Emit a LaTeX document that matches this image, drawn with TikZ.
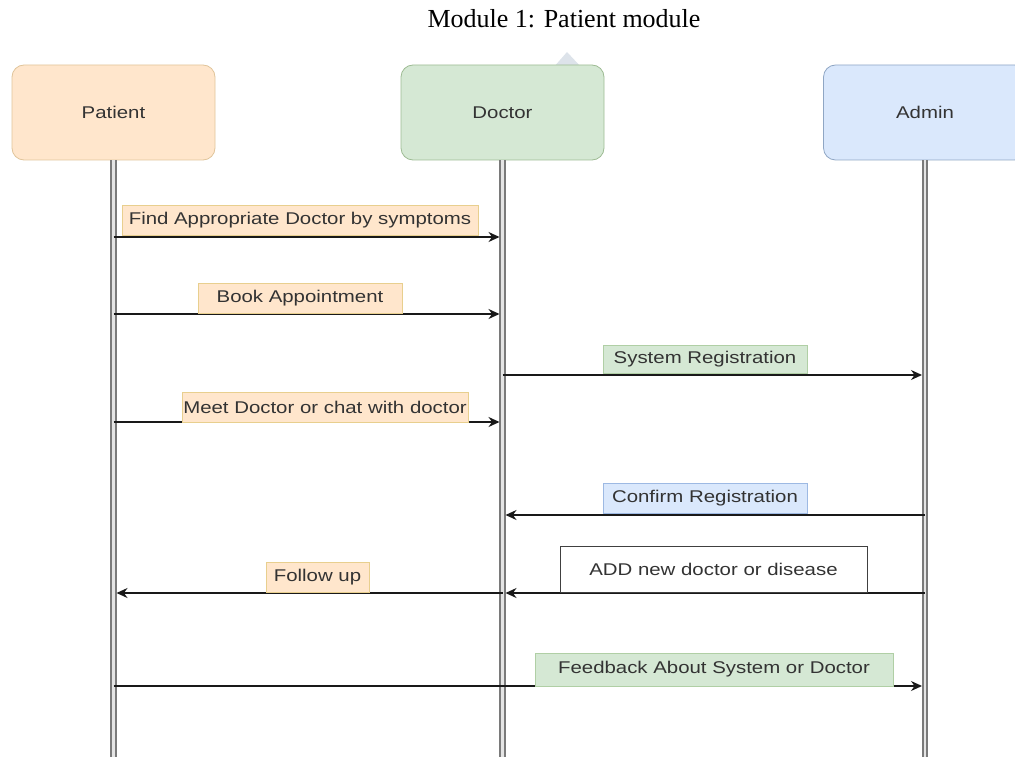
\documentclass[tikz,border=0pt]{standalone}
\usepackage{fontspec}
\setmainfont{Liberation Serif}
\newfontfamily\labfont[FakeStretch=1.2]{Liberation Sans}
\usetikzlibrary{arrows.meta}
\definecolor{orfill}{HTML}{FFE6CC}
\definecolor{orline}{HTML}{E0C49A}
\definecolor{orlab}{HTML}{E8CF8E}
\definecolor{grfill}{HTML}{D5E8D4}
\definecolor{grline}{HTML}{9DBB93}
\definecolor{grlab}{HTML}{B0CFA5}
\definecolor{blfill}{HTML}{DAE8FC}
\definecolor{blline}{HTML}{8FA6C4}
\definecolor{bllab}{HTML}{9DB9E3}
\definecolor{txt}{HTML}{333333}
\definecolor{lifegray}{HTML}{7A7A7A}
\definecolor{lifein}{HTML}{E4E4E4}
\definecolor{ghost}{HTML}{DDE3EA}
\tikzset{
  lifebox/.style={rounded corners=12pt, minimum width=203pt, minimum height=95pt,
    inner sep=0pt, text=txt, font=\labfont\fontsize{17}{20}\selectfont, line width=0.8pt},
  lifeline/.style={draw=lifegray, double=lifein, double distance=2.6pt, line width=2pt},
  msg/.style={draw=black!90, line width=1.4pt, -{Stealth[length=11pt,width=10pt]}, shorten >=3pt},
  lab/.style={inner sep=0pt, text=txt, font=\labfont\fontsize{17}{20}\selectfont, line width=0.8pt},
  orlabel/.style={lab, fill=orfill, draw=orlab},
  grlabel/.style={lab, fill=grfill, draw=grlab},
  bllabel/.style={lab, fill=blfill, draw=bllab},
  whlabel/.style={lab, fill=white, draw=black!75},
}
\begin{document}
\begin{tikzpicture}[x=1pt,y=-1pt]
\useasboundingbox (0,0) rectangle (1015,757);
\clip (0,0) rectangle (1015,757);
% title
\node[anchor=base, font=\fontsize{26}{30}\selectfont] (title) at (564,28) {Module 1: Patient module};
% faint triangle
\fill[ghost] (553,68) -- (567,52) -- (582,68) -- cycle;
% lifeline boxes
\node[lifebox, fill=orfill, draw=orline] (patient) at (113.5,112.5) {Patient};
\node[lifebox, fill=grfill, draw=grline] (doctor) at (502.5,112.5) {Doctor};
\node[lifebox, fill=blfill, draw=blline] (admin) at (925,112.5) {Admin};
% lifeline ends
\coordinate (pend) at (113.5,760);
\coordinate (dend) at (502.5,760);
\coordinate (aend) at (925,760);
\draw[lifeline] (patient.south) -- (pend);
\draw[lifeline] (doctor.south) -- (dend);
\draw[lifeline] (admin.south) -- (aend);
% message anchor points
\foreach \n/\y in {1/237, 2/314, 3/375, 4/422, 5/515, 6/593, 8/686} {
  \coordinate (p\n) at (113.5,\y);
  \coordinate (d\n) at (502.5,\y);
  \coordinate (a\n) at (925,\y);
}
% messages
\draw[msg] (p1) -- (d1);
\draw[msg] (p2) -- (d2);
\draw[msg] (d3) -- (a3);
\draw[msg] (p4) -- (d4);
\draw[msg] (a5) -- (d5);
\draw[msg] (a6) -- (d6);
\draw[msg] (d6) -- (p6);
\draw[msg] (p8) -- (a8);
% labels
\node[orlabel, minimum width=356pt, minimum height=30pt] (l1) at (300,220) {Find Appropriate Doctor by symptoms};
\node[orlabel, minimum width=204pt, minimum height=30pt] (l2) at (300,298) {Book Appointment};
\node[grlabel, minimum width=204pt, minimum height=28pt] (l3) at (705,359) {System Registration};
\node[orlabel, minimum width=286pt, minimum height=30pt] (l4) at (325,407) {Meet Doctor or chat with doctor};
\node[bllabel, minimum width=204pt, minimum height=30pt] (l5) at (705,498) {Confirm Registration};
\node[whlabel, minimum width=307pt, minimum height=46pt] (l6) at (713.5,569) {ADD new doctor or disease};
\node[orlabel, minimum width=103pt, minimum height=30pt] (l7) at (317.5,577) {Follow up};
\node[grlabel, minimum width=358pt, minimum height=33pt] (l8) at (714,669.5) {Feedback About System or Doctor};
\end{tikzpicture}
\end{document}
